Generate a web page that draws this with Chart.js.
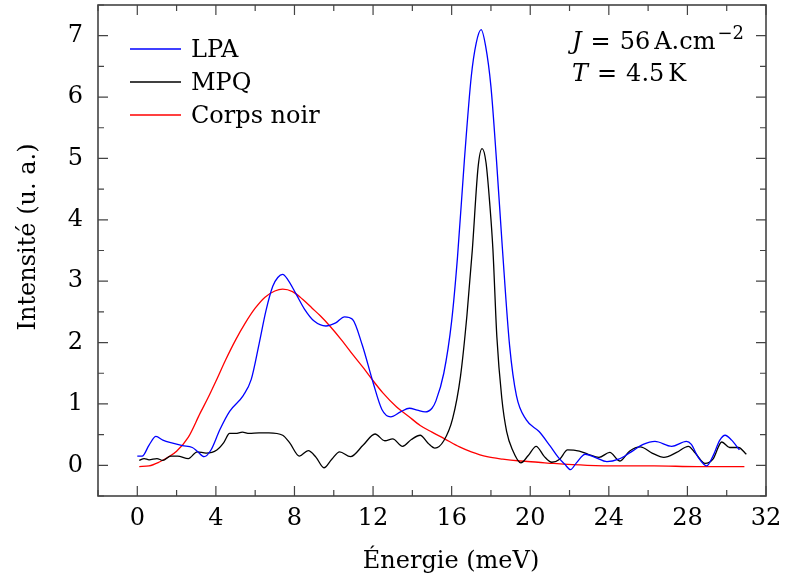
<!DOCTYPE html>
<html>
<head>
<meta charset="utf-8">
<title>Spectre LPA / MPQ</title>
<script src="https://cdn.jsdelivr.net/npm/chart.js@4.4.1/dist/chart.umd.min.js"></script>
<style>
  html, body { margin: 0; padding: 0; background: #fff; }
  #wrap { width: 785px; height: 579px; }
</style>
</head>
<body>
<div id="wrap"><canvas id="spectre" width="785" height="579"></canvas></div>
<script>
// Energies (meV) and intensities (u. a.)
const lpaE = [0, 0.25, 0.6, 0.95, 1.3, 1.8, 2.3, 2.8, 3.05, 3.4, 3.75, 4.2, 4.7, 5.4, 5.8, 6.2, 6.55, 6.9, 7.15, 7.4, 7.65, 8.1, 8.5, 9.0, 9.6, 10.1, 10.55, 10.95, 11.45, 12.0, 12.45, 12.9, 13.4, 13.85, 14.25, 14.65, 15.0, 15.2, 15.6, 16.0, 16.3, 16.65, 17.0, 17.25, 17.5, 17.73, 18.0, 18.28, 18.58, 18.95, 19.3, 19.8, 20.45, 21.0, 21.45, 21.75, 22.05, 22.35, 22.8, 23.3, 23.9, 24.5, 25.1, 25.75, 26.35, 27.2, 27.95, 28.2, 28.55, 28.98, 29.3, 29.65, 29.92, 30.25, 30.65];
const lpaI = [0.15, 0.15, 0.33, 0.47, 0.41, 0.36, 0.32, 0.29, 0.23, 0.14, 0.25, 0.58, 0.88, 1.14, 1.40, 1.98, 2.52, 2.92, 3.06, 3.11, 3.03, 2.78, 2.55, 2.35, 2.27, 2.32, 2.42, 2.38, 1.96, 1.35, 0.91, 0.79, 0.87, 0.93, 0.90, 0.87, 0.93, 1.05, 1.50, 2.35, 3.40, 4.98, 6.34, 6.88, 7.10, 6.83, 6.17, 4.98, 3.55, 1.95, 1.13, 0.74, 0.55, 0.32, 0.12, 0.02, -0.07, 0.04, 0.18, 0.13, 0.06, 0.10, 0.21, 0.34, 0.39, 0.31, 0.39, 0.34, 0.13, -0.01, 0.15, 0.41, 0.49, 0.41, 0.25];

const mpqE = [0.1, 0.35, 0.6, 1.0, 1.3, 1.7, 2.05, 2.6, 3.05, 3.5, 4.05, 4.4, 4.7, 5.0, 5.35, 5.7, 6.2, 6.7, 7.4, 7.75, 8.25, 8.7, 9.1, 9.5, 9.9, 10.3, 10.85, 11.5, 12.1, 12.6, 13.0, 13.5, 13.95, 14.4, 14.8, 15.15, 15.6, 16.05, 16.45, 16.78, 17.05, 17.35, 17.55, 17.75, 17.95, 18.1, 18.3, 18.55, 18.8, 19.1, 19.52, 19.9, 20.3, 20.7, 21.1, 21.5, 21.9, 22.5, 22.95, 23.5, 24.05, 24.55, 25.05, 25.6, 26.2, 26.8, 27.45, 28.05, 28.4, 28.9, 29.3, 29.75, 30.15, 30.6, 31.0];
const mpqI = [0.08, 0.11, 0.09, 0.11, 0.08, 0.15, 0.15, 0.11, 0.22, 0.20, 0.25, 0.37, 0.52, 0.52, 0.54, 0.52, 0.53, 0.53, 0.49, 0.37, 0.15, 0.24, 0.13, -0.04, 0.10, 0.22, 0.14, 0.33, 0.51, 0.40, 0.43, 0.31, 0.42, 0.49, 0.36, 0.28, 0.40, 0.76, 1.45, 2.45, 3.50, 4.87, 5.16, 4.93, 4.22, 3.52, 2.10, 1.10, 0.55, 0.25, 0.04, 0.16, 0.31, 0.15, 0.05, 0.10, 0.25, 0.23, 0.18, 0.13, 0.21, 0.07, 0.23, 0.30, 0.20, 0.13, 0.21, 0.31, 0.20, 0.03, 0.10, 0.38, 0.29, 0.29, 0.18];

const bbE = [0.1, 0.6, 1.1, 1.6, 2.0, 2.6, 3.2, 3.6, 4.0, 4.5, 5.0, 5.5, 6.0, 6.5, 7.0, 7.4, 7.9, 8.4, 8.9, 9.3, 9.8, 10.4, 11.0, 11.5, 11.9, 12.5, 13.2, 13.8, 14.4, 15.0, 15.6, 16.4, 17.0, 17.8, 18.6, 19.5, 20.4, 21.2, 22.9, 24.6, 26.3, 28.5, 30.9];
const bbI = [-0.02, -0.01, 0.05, 0.14, 0.23, 0.46, 0.85, 1.10, 1.37, 1.72, 2.04, 2.32, 2.56, 2.74, 2.84, 2.87, 2.83, 2.71, 2.56, 2.44, 2.27, 2.04, 1.79, 1.59, 1.42, 1.18, 0.95, 0.80, 0.65, 0.54, 0.44, 0.30, 0.22, 0.14, 0.10, 0.07, 0.05, 0.03, 0.00, -0.01, -0.01, -0.02, -0.02];

const xMajorTicks = [0, 4, 8, 12, 16, 20, 24, 28, 32];
const xMinorTicks = [-2, 2, 6, 10, 14, 18, 22, 26, 30];
const yMajorTicks = [0, 1, 2, 3, 4, 5, 6, 7];
const yMinorTicks = [-0.5, 0.5, 1.5, 2.5, 3.5, 4.5, 5.5, 6.5, 7.5];

const FONT = 'DejaVu Serif';

function toPoints(xs, ys) {
    return xs.map((v, i) => ({ x: v, y: ys[i] }));
}

// no extra room for half labels at the ends of the axes
function noPad(s) {
    s.paddingTop = 0;
    s.paddingBottom = 0;
    s.paddingLeft = 0;
    s.paddingRight = 0;
}

// Frame, inward ticks, legend, annotation and axis titles
const decorPlugin = {
    id: 'decor',
    afterDatasetsDraw(chart) {
        const { ctx, chartArea: a, scales } = chart;
        const xs = scales.x, ys = scales.y;
        ctx.save();

        ctx.strokeStyle = '#444';
        ctx.lineWidth = 1.2;
        ctx.beginPath();
        const tick = (vals, len) => {
            vals.forEach(v => {
                const px = xs.getPixelForValue(v);
                ctx.moveTo(px, a.bottom); ctx.lineTo(px, a.bottom - len);
                ctx.moveTo(px, a.top); ctx.lineTo(px, a.top + len);
            });
        };
        const ytick = (vals, len) => {
            vals.forEach(v => {
                const py = ys.getPixelForValue(v);
                ctx.moveTo(a.left, py); ctx.lineTo(a.left + len, py);
                ctx.moveTo(a.right, py); ctx.lineTo(a.right - len, py);
            });
        };
        tick(xMajorTicks, 10);
        tick(xMinorTicks, 6);
        ytick(yMajorTicks, 10);
        ytick(yMinorTicks, 6);
        ctx.stroke();

        ctx.lineWidth = 1.6;
        ctx.strokeRect(a.left, a.top, a.right - a.left, a.bottom - a.top);

        // legend
        ctx.font = '24px "' + FONT + '"';
        ctx.fillStyle = '#000';
        ctx.textAlign = 'left';
        ctx.textBaseline = 'alphabetic';
        chart.data.datasets.forEach((ds, i) => {
            const ly = 49 + i * 33;
            ctx.strokeStyle = ds.borderColor;
            ctx.lineWidth = 1.3;
            ctx.beginPath();
            ctx.moveTo(130, ly); ctx.lineTo(181, ly);
            ctx.stroke();
            ctx.fillText(ds.label, 191, ly + 8);
        });

        // J and T annotation
        const line = (parts, x0, base) => {
            let cx = x0;
            parts.forEach(p => {
                ctx.font = (p.it ? 'italic ' : '') + p.size + 'px "' + FONT + '"';
                ctx.fillText(p.t, cx, base + (p.up || 0));
                cx += ctx.measureText(p.t).width + (p.gap || 0);
            });
        };
        line([
            { t: 'J', it: true, size: 24, gap: 9 },
            { t: '=', size: 24, gap: 9 },
            { t: '56', size: 24, gap: 4 },
            { t: 'A.cm', size: 24, gap: 2 },
            { t: '\u22122', size: 18, up: -10 }
        ], 572, 49);
        line([
            { t: 'T', it: true, size: 24, gap: 9 },
            { t: '=', size: 24, gap: 9 },
            { t: '4.5', size: 24, gap: 4 },
            { t: 'K', size: 24 }
        ], 572, 81);

        // axis titles
        ctx.font = '24px "' + FONT + '"';
        ctx.textAlign = 'center';
        ctx.fillText('\u00c9nergie (meV)', 451, 568);
        ctx.save();
        ctx.translate(35, 237);
        ctx.rotate(-Math.PI / 2);
        ctx.fillText('Intensit\u00e9 (u. a.)', 0, 0);
        ctx.restore();

        ctx.restore();
    }
};

const ctx = document.getElementById('spectre').getContext('2d');

const spectreChart = new Chart(ctx, {
    type: 'line',
    data: {
        datasets: [
            {
                label: 'LPA',
                data: toPoints(lpaE, lpaI),
                borderColor: '#0000ff',
                borderWidth: 1.3,
                pointRadius: 0,
                fill: false,
                cubicInterpolationMode: 'monotone'
            },
            {
                label: 'MPQ',
                data: toPoints(mpqE, mpqI),
                borderColor: '#000000',
                borderWidth: 1.3,
                pointRadius: 0,
                fill: false,
                cubicInterpolationMode: 'monotone'
            },
            {
                label: 'Corps noir',
                data: toPoints(bbE, bbI),
                borderColor: '#ff0000',
                borderWidth: 1.3,
                pointRadius: 0,
                fill: false,
                cubicInterpolationMode: 'monotone'
            }
        ]
    },
    options: {
        responsive: false,
        animation: false,
        events: [],
        layout: { padding: { top: 5, right: 19, left: 0, bottom: 0 } },
        scales: {
            x: {
                type: 'linear',
                min: -2,
                max: 32,
                afterFit: s => { s.height = 83; noPad(s); },
                afterBuildTicks: s => { s.ticks = xMajorTicks.map(v => ({ value: v })); },
                grid: { display: false, drawTicks: false },
                border: { display: false },
                ticks: {
                    color: '#000',
                    font: { family: FONT, size: 24 },
                    padding: 8,
                    maxRotation: 0,
                    autoSkip: false
                }
            },
            y: {
                type: 'linear',
                min: -0.5,
                max: 7.5,
                afterFit: s => { s.width = 98; noPad(s); },
                afterBuildTicks: s => { s.ticks = yMajorTicks.map(v => ({ value: v })); },
                grid: { display: false, drawTicks: false },
                border: { display: false },
                ticks: {
                    color: '#000',
                    font: { family: FONT, size: 24 },
                    padding: 15,
                    autoSkip: false
                }
            }
        },
        plugins: {
            legend: { display: false },
            tooltip: { enabled: false }
        }
    },
    plugins: [decorPlugin]
});
</script>
</body>
</html>
